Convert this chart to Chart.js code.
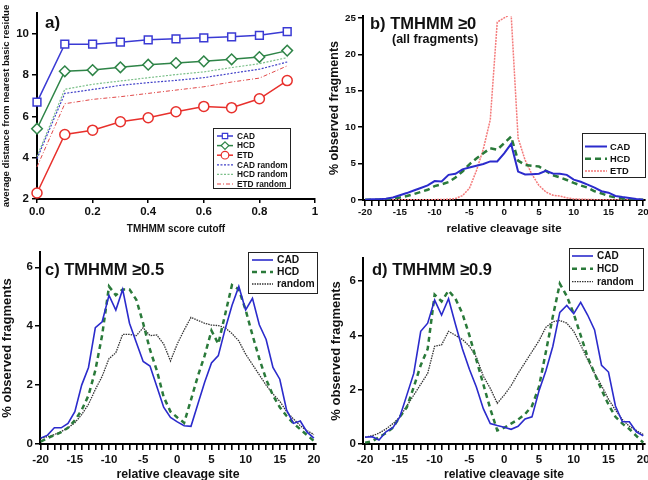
<!DOCTYPE html>
<html>
<head>
<meta charset="utf-8">
<script src="https://cdn.jsdelivr.net/npm/chart.js@4.4.1/dist/chart.umd.min.js"></script>
<style>
  html, body { margin: 0; padding: 0; background: #fff; overflow: hidden; }
  #wrap { position: relative; width: 648px; height: 480px; overflow: hidden; }
  canvas { position: absolute; }
  .lbl { position: absolute; font-family: 'Liberation Sans', Arial, sans-serif; font-weight: bold;
         line-height: 1; white-space: nowrap; color: #111; z-index: 2; }
</style>
</head>
<body>
<div id="wrap">
  <canvas id="panelA" width="330" height="240" style="left:0;top:0"></canvas>
  <canvas id="panelB" width="323" height="240" style="left:325px;top:0"></canvas>
  <canvas id="panelC" width="325" height="250" style="left:0;top:240px"></canvas>
  <canvas id="panelD" width="323" height="250" style="left:325px;top:240px"></canvas>
  <div class="lbl" style="left:45px;top:14px;font-size:17px">a)</div>
  <div class="lbl" style="left:370px;top:15px;font-size:16.5px">b) TMHMM ≥0</div>
  <div class="lbl" style="left:392px;top:33px;font-size:12.5px">(all fragments)</div>
  <div class="lbl" style="left:45px;top:261px;font-size:16.5px">c) TMHMM ≥0.5</div>
  <div class="lbl" style="left:372px;top:261px;font-size:16.5px">d) TMHMM ≥0.9</div>
</div>
<script>
// panel a : average distance vs TMHMM cutoff
const cutoffs = [0, 0.1, 0.2, 0.3, 0.4, 0.5, 0.6, 0.7, 0.8, 0.9];
const cadDist = [6.69, 9.49, 9.49, 9.59, 9.70, 9.75, 9.80, 9.85, 9.92, 10.1];
const hcdDist = [5.40, 8.18, 8.24, 8.37, 8.50, 8.58, 8.66, 8.76, 8.87, 9.18];
const etdDist = [2.29, 5.12, 5.33, 5.74, 5.93, 6.22, 6.48, 6.42, 6.85, 7.73];
const cadRandDist = [3.95, 7.11, 7.30, 7.50, 7.63, 7.74, 7.87, 8.08, 8.28, 8.63];
const hcdRandDist = [4.05, 7.31, 7.55, 7.71, 7.87, 8.02, 8.15, 8.36, 8.55, 8.84];
const etdRandDist = [3.55, 6.61, 6.82, 6.95, 7.11, 7.27, 7.43, 7.66, 7.85, 8.44];

// panels b-d : relative cleavage site
const sites = [-20, -19, -18, -17, -16, -15, -14, -13, -12, -11, -10, -9, -8, -7, -6, -5, -4, -3, -2, -1,
  0, 1, 2, 3, 4, 5, 6, 7, 8, 9, 10, 11, 12, 13, 14, 15, 16, 17, 18, 19, 20];

const cadAll = [0.05, 0.1, 0.12, 0.18, 0.35, 0.65, 0.95, 1.3, 1.65, 2.0, 2.6, 2.55, 3.45, 3.6, 4.2, 4.45, 4.7, 4.95, 5.3, 5.3,
  6.4, 7.7, 3.9, 3.5, 3.55, 3.6, 4.0, 3.65, 3.6, 3.45, 2.8, 2.5, 2.1, 1.7, 1.2, 1.0, 0.55, 0.4, 0.28, 0.15, 0.05];
const hcdAll = [0.02, 0.03, 0.05, 0.1, 0.2, 0.35, 0.55, 0.8, 1.1, 1.4, 1.9, 2.15, 2.45, 3.1, 3.9, 4.9, 5.7, 6.4, 7.1, 6.9,
  7.8, 8.7, 5.4, 4.8, 4.7, 4.6, 4.0, 3.4, 3.1, 2.75, 2.35, 2.0, 1.7, 1.2, 0.9, 0.55, 0.35, 0.2, 0.1, 0.05, 0.02];
const etdAll = [0.03, 0.03, 0.03, 0.03, 0.03, 0.03, 0.03, 0.03, 0.04, 0.05, 0.05, 0.06, 0.1, 0.2, 0.6, 1.6, 4.0, 7.0, 11.0, 24.4,
  25.0, 25.5, 8.5, 5.5, 3.5, 2.0, 1.1, 0.65, 0.55, 0.3, 0.15, 0.1, 0.08, 0.05, 0.05, 0.04, 0.03, 0.03, 0.03, 0.03, 0.03];

const cadTm05 = [0.2, 0.3, 0.55, 0.55, 0.7, 1.1, 2.0, 2.6, 3.95, 4.15, 5.05, 4.55, 5.25, 4.1, 3.45, 2.8, 2.65, 1.95, 1.25, 0.9,
  0.75, 0.62, 0.6, 1.35, 2.1, 2.75, 3.0, 3.9, 4.7, 5.35, 4.55, 4.95, 4.05, 3.55, 2.6, 2.2, 1.15, 0.7, 0.78, 0.4, 0.2];
const hcdTm05 = [0.08, 0.2, 0.3, 0.4, 0.55, 0.8, 1.15, 1.65, 2.5, 3.7, 5.35, 5.05, 5.25, 5.25, 4.9, 4.1, 3.2, 2.5, 1.6, 1.1,
  0.9, 0.72, 1.5, 2.3, 3.0, 3.85, 3.4, 4.4, 5.4, 5.25, 4.55, 3.7, 2.9, 2.2, 1.65, 1.25, 0.95, 0.7, 0.5, 0.3, 0.1];
const randTm05 = [0.2, 0.25, 0.32, 0.42, 0.55, 0.72, 1.0, 1.35, 1.85, 2.3, 2.9, 3.1, 3.72, 3.72, 3.68, 3.95, 3.68, 3.7, 3.4, 2.82,
  3.4, 3.87, 4.3, 4.2, 4.1, 4.04, 4.02, 3.95, 3.75, 3.5, 3.05, 2.7, 2.35, 2.0, 1.7, 1.45, 1.1, 0.85, 0.62, 0.45, 0.32];

const cadTm09 = [0.25, 0.27, 0.15, 0.45, 0.6, 1.0, 1.8, 2.6, 4.15, 4.45, 5.3, 4.75, 5.35, 4.4, 3.5, 2.75, 2.1, 1.3, 0.75, 0.68,
  0.62, 0.54, 0.65, 0.92, 1.0, 1.95, 2.7, 3.6, 4.85, 5.1, 4.8, 5.22, 4.75, 4.2, 2.9, 2.65, 1.4, 0.82, 0.82, 0.45, 0.3];
const hcdTm09 = [0.05, 0.1, 0.25, 0.4, 0.6, 1.0, 1.35, 2.1, 2.9, 3.5, 5.5, 5.25, 5.65, 5.35, 4.8, 4.0, 3.1, 2.2, 1.3, 0.5,
  0.6, 0.75, 0.9, 1.1, 1.4, 2.1, 3.4, 4.7, 5.9, 5.45, 4.8, 4.0, 3.2, 2.6, 2.0, 1.45, 1.0, 0.75, 0.55, 0.3, 0.05];
const randTm09 = [0.25, 0.3, 0.4, 0.55, 0.75, 1.0, 1.4, 1.8, 2.2, 2.6, 3.6, 3.65, 4.15, 4.0, 3.85, 3.6, 3.2, 2.5, 2.05, 1.5,
  1.8, 2.15, 2.6, 3.0, 3.4, 3.8, 4.3, 4.5, 4.55, 4.45, 4.15, 3.65, 3.1, 2.6, 2.15, 1.65, 1.25, 0.9, 0.65, 0.5, 0.35];

const BLUE = '#2b2bcc';
const GREEN = '#2a7a3a';
const FONT = "'Liberation Sans', Arial, sans-serif";

Chart.defaults.font.family = FONT;
Chart.defaults.font.weight = 'bold';
Chart.defaults.color = '#111';

function drawMarker(ctx, style, x, y, r) {
  ctx.beginPath();
  if (style === 'rect') {
    const s = r * Math.SQRT1_2;
    ctx.rect(x - s, y - s, 2 * s, 2 * s);
  } else if (style === 'rectRot') {
    ctx.moveTo(x, y - r); ctx.lineTo(x + r, y); ctx.lineTo(x, y + r); ctx.lineTo(x - r, y); ctx.closePath();
  } else {
    ctx.arc(x, y, r, 0, Math.PI * 2);
  }
  ctx.fillStyle = '#fff';
  ctx.fill();
  ctx.stroke();
}

// legend in a framed box, drawn from the datasets
const boxLegend = {
  id: 'boxLegend',
  afterDraw(chart, args, o) {
    const ctx = chart.ctx;
    ctx.save();
    ctx.fillStyle = '#fff';
    ctx.fillRect(o.x, o.y, o.w, o.h);
    ctx.strokeStyle = '#222';
    ctx.lineWidth = 1;
    ctx.strokeRect(o.x + 0.5, o.y + 0.5, o.w, o.h);
    chart.data.datasets.forEach((ds, i) => {
      const y = o.first + i * o.step;
      ctx.strokeStyle = ds.borderColor;
      ctx.lineWidth = ds.borderWidth;
      ctx.setLineDash(ds.borderDash || []);
      ctx.beginPath();
      ctx.moveTo(o.x0, y);
      ctx.lineTo(o.x1, y);
      ctx.stroke();
      ctx.setLineDash([]);
      if (ds.pointRadius > 0) {
        ctx.lineWidth = 1.2;
        drawMarker(ctx, ds.pointStyle, (o.x0 + o.x1) / 2, y, o.marker);
      }
      ctx.fillStyle = '#111';
      ctx.font = o.font;
      ctx.textBaseline = 'middle';
      ctx.fillText(ds.label, o.tx, y + 0.5);
    });
    ctx.restore();
  }
};

function axisBase(extra) {
  return Object.assign({
    type: 'linear',
    border: { color: '#000', width: 2 },
    grid: { drawOnChartArea: false, drawTicks: true, color: '#000', lineWidth: 1.5 },
  }, extra);
}

// ---- panel a ----
function distSet(label, values, color, opts) {
  return Object.assign({
    label: label,
    data: cutoffs.map((c, i) => ({ x: c, y: values[i] })),
    borderColor: color,
    pointBorderColor: color,
    pointBackgroundColor: '#fff',
    tension: 0,
    fill: false,
    clip: false
  }, opts);
}

new Chart(document.getElementById('panelA'), {
  type: 'line',
  data: {
    datasets: [
      distSet('CAD', cadDist, '#3a3ad4', { borderWidth: 1.5, pointStyle: 'rect', pointRadius: 5.5, pointBorderWidth: 1.5 }),
      distSet('HCD', hcdDist, '#2e8447', { borderWidth: 1.5, pointStyle: 'rectRot', pointRadius: 5.3, pointBorderWidth: 1.5 }),
      distSet('ETD', etdDist, '#e8302c', { borderWidth: 1.5, pointStyle: 'circle', pointRadius: 5, pointBorderWidth: 1.5 }),
      distSet('CAD random', cadRandDist, '#4040c8', { borderWidth: 1.2, borderDash: [2, 1.5], pointRadius: 0 }),
      distSet('HCD random', hcdRandDist, '#7cc08a', { borderWidth: 1.2, borderDash: [2, 1.5], pointRadius: 0 }),
      distSet('ETD random', etdRandDist, '#e04848', { borderWidth: 1, borderDash: [4, 2, 1, 2], pointRadius: 0 })
    ]
  },
  options: {
    responsive: false, animation: false, devicePixelRatio: 1,
    layout: { padding: { left: 0, top: 13, right: 15, bottom: 0 } },
    plugins: {
      legend: { display: false }, tooltip: { enabled: false },
      boxLegend: { x: 213, y: 128, w: 77, h: 60, first: 136, step: 9.6, x0: 217, x1: 233, tx: 237, marker: 3.8,
                   font: 'bold 8.3px ' + FONT }
    },
    scales: {
      x: axisBase({
        min: 0, max: 1,
        grid: { drawOnChartArea: false, drawTicks: true, tickLength: 4, color: '#000', lineWidth: 1.5 },
        ticks: { stepSize: 0.2, padding: 1.6, maxRotation: 0, font: { size: 11.5 },
                 callback: v => (Math.abs(v - 1) < 1e-9 ? '1' : v.toFixed(1)) },
        title: { display: true, text: 'TMHMM score cutoff', font: { size: 10 }, padding: { top: 0, bottom: 4.5 } },
        afterFit: s => { s.height = 41; s.paddingLeft = 0; s.paddingRight = 0; }
      }),
      y: axisBase({
        min: 2, max: 11,
        grid: { drawOnChartArea: false, drawTicks: true, tickLength: 5, color: '#000', lineWidth: 1.5 },
        ticks: { stepSize: 2, includeBounds: false, padding: 3, font: { size: 11.5 } },
        title: { display: true, text: 'average distance from nearest basic residue', font: { size: 9.6 },
                 padding: { top: 0.5, bottom: 0 } },
        afterFit: s => { s.width = 37; s.paddingTop = 0; s.paddingBottom = 0; }
      })
    }
  },
  plugins: [boxLegend]
});

// ---- panels b, c, d ----
function siteSet(label, values, color, width, dash) {
  return {
    label: label,
    data: sites.map((s, i) => ({ x: s, y: values[i] })),
    borderColor: color,
    borderWidth: width,
    borderDash: dash,
    pointRadius: 0,
    tension: 0,
    fill: false
  };
}

function sitePanel(id, datasets, p) {
  return new Chart(document.getElementById(id), {
    type: 'line',
    data: { datasets: datasets },
    options: {
      responsive: false, animation: false, devicePixelRatio: 1,
      layout: { padding: { left: 0, top: p.top, right: p.right, bottom: 0 } },
      plugins: { legend: { display: false }, tooltip: { enabled: false }, boxLegend: p.legend },
      scales: {
        x: axisBase({
          min: p.xmin, max: p.xmax,
          grid: { drawOnChartArea: false, drawTicks: true, tickLength: 6, color: '#000', lineWidth: 1.6 },
          ticks: { stepSize: 1, autoSkip: false, includeBounds: false, maxRotation: 0, padding: p.xpad,
                   font: { size: p.tickSize }, callback: v => (v % 5 === 0 ? String(v) : '') },
          title: { display: true, text: 'relative cleavage site', font: { size: p.xTitleSize },
                   padding: { top: 0, bottom: p.xTitlePad } },
          afterFit: s => { s.height = p.xh; s.paddingLeft = 0; s.paddingRight = 0; }
        }),
        y: axisBase({
          min: 0, max: p.ymax,
          grid: { drawOnChartArea: false, drawTicks: true, tickLength: 5, color: '#000', lineWidth: 1.5 },
          ticks: { stepSize: p.ystep, includeBounds: false, padding: 2, font: { size: p.tickSize } },
          title: { display: true, text: '% observed fragments', font: { size: p.yTitleSize },
                   padding: { top: p.yTitlePad, bottom: 0 } },
          afterFit: s => { s.width = p.yw; s.paddingTop = 0; s.paddingBottom = 0; }
        })
      }
    },
    plugins: [boxLegend]
  });
}

sitePanel('panelB', [
  siteSet('CAD', cadAll, BLUE, 2, []),
  siteSet('HCD', hcdAll, GREEN, 2.5, [6, 4]),
  siteSet('ETD', etdAll, '#f47a7a', 1.5, [2, 1])
], {
  top: 16, right: 3, xmin: -20.3, xmax: 20.25, ymax: 25.25, ystep: 5, yw: 38, xh: 40,
  xpad: 0, tickSize: 9.8, xTitleSize: 11.5, xTitlePad: 4, yTitleSize: 12.5, yTitlePad: 2.5,
  legend: { x: 257, y: 133, w: 63, h: 44, first: 146.5, step: 12.2, x0: 260, x1: 282, tx: 285,
            font: 'bold 9.3px ' + FONT }
});

sitePanel('panelC', [
  siteSet('CAD', cadTm05, BLUE, 1.6, []),
  siteSet('HCD', hcdTm05, GREEN, 2.5, [5, 4]),
  siteSet('random', randTm05, '#333', 1.3, [1.5, 1])
], {
  top: 12, right: 9, xmin: -20.1, xmax: 20.3, ymax: 6.52, ystep: 2, yw: 40, xh: 46,
  xpad: 3, tickSize: 11.5, xTitleSize: 12.3, xTitlePad: 8.5, yTitleSize: 13, yTitlePad: 0,
  legend: { x: 248, y: 12, w: 69, h: 41, first: 20, step: 12, x0: 252, x1: 273, tx: 277,
            font: 'bold 10.3px ' + FONT }
});

sitePanel('panelD', [
  siteSet('CAD', cadTm09, BLUE, 1.6, []),
  siteSet('HCD', hcdTm09, GREEN, 2.5, [5, 4]),
  siteSet('random', randTm09, '#333', 1.3, [1.5, 1])
], {
  top: 18, right: 3, xmin: -20.3, xmax: 20.25, ymax: 6.85, ystep: 2, yw: 38, xh: 46,
  xpad: 3, tickSize: 11.5, xTitleSize: 12, xTitlePad: 8.5, yTitleSize: 13, yTitlePad: 4,
  legend: { x: 244, y: 8, w: 74, h: 42, first: 16, step: 12.8, x0: 247, x1: 268, tx: 272,
            font: 'bold 10px ' + FONT }
});
</script>
</body>
</html>
